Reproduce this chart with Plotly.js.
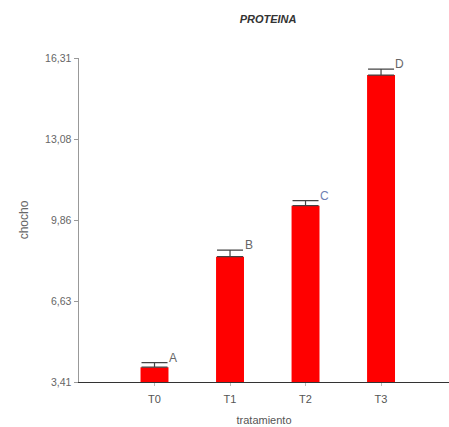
<!DOCTYPE html>
<html><head><meta charset="utf-8">
<script src="https://cdn.plot.ly/plotly-3.0.1.min.js"></script>
<style>html,body{margin:0;padding:0;background:#fff}#chart{width:449px;height:427px}</style>
</head><body><div id="chart"></div>
<script>
const categories = ["T0", "T1", "T2", "T3"];
const means = [4.00, 8.40, 10.43, 15.63];
const errors = [0.18, 0.26, 0.20, 0.24];
const groupLetters = ["A", "B", "C", "D"];
const letterColors = ["#666666", "#666666", "#6f7fb3", "#666666"];
const yTickVals = [3.41, 6.63, 9.86, 13.08, 16.31];
const yTickText = ["3,41", "6,63", "9,86", "13,08", "16,31"];

const trace = {
  type: "bar",
  x: categories,
  y: means,
  base: 0,
  width: 0.37,
  marker: {color: "#ff0000", line: {width: 0}},
  error_y: {type: "data", symmetric: false, array: errors, arrayminus: errors.map(() => 0),
            color: "#444444", thickness: 1.2, width: 13},
  hoverinfo: "none"
};

const annotations = categories.map((c, i) => ({
  x: i + 0.25, y: means[i] + errors[i], xref: "x", yref: "y",
  text: groupLetters[i], showarrow: false, xanchor: "center", yanchor: "bottom",
  yshift: -4, font: {family: "Liberation Sans, Arial", size: 12, color: letterColors[i]}
}));

const layout = {
  width: 449, height: 427,
  margin: {l: 79, r: 0, t: 58, b: 45},
  paper_bgcolor: "#fff", plot_bgcolor: "#fff",
  showlegend: false,
  title: {text: "<b><i>PROTEINA</i></b>", x: 0.597, xanchor: "center", y: 0.955, yanchor: "middle",
          font: {family: "Liberation Sans, Arial", size: 11, color: "#333"}},
  xaxis: {
    type: "category", range: [-1, 3.9],
    showline: true, linecolor: "#333", linewidth: 1,
    ticks: "outside", ticklen: 3, tickcolor: "#bbb",
    ticklabelstandoff: 4,
    showgrid: false, zeroline: false,
    tickfont: {family: "Liberation Sans, Arial", size: 11, color: "#555"},
    title: {text: "tratamiento", standoff: 12, font: {family: "Liberation Sans, Arial", size: 11, color: "#555"}}
  },
  yaxis: {
    range: [3.41, 16.31],
    showline: true, linecolor: "#999", linewidth: 1.5,
    ticks: "outside", ticklen: 4, tickcolor: "#999",
    tickvals: yTickVals, ticktext: yTickText,
    showgrid: false, zeroline: false,
    tickfont: {family: "Liberation Sans, Arial", size: 10.5, color: "#666"},
    title: {text: "chocho", standoff: 14, font: {family: "Liberation Sans, Arial", size: 12, color: "#666"}}
  },
  annotations: annotations,
  bargap: 0.6
};

Plotly.newPlot("chart", [trace], layout, {staticPlot: true, displayModeBar: false});
</script></body></html>
